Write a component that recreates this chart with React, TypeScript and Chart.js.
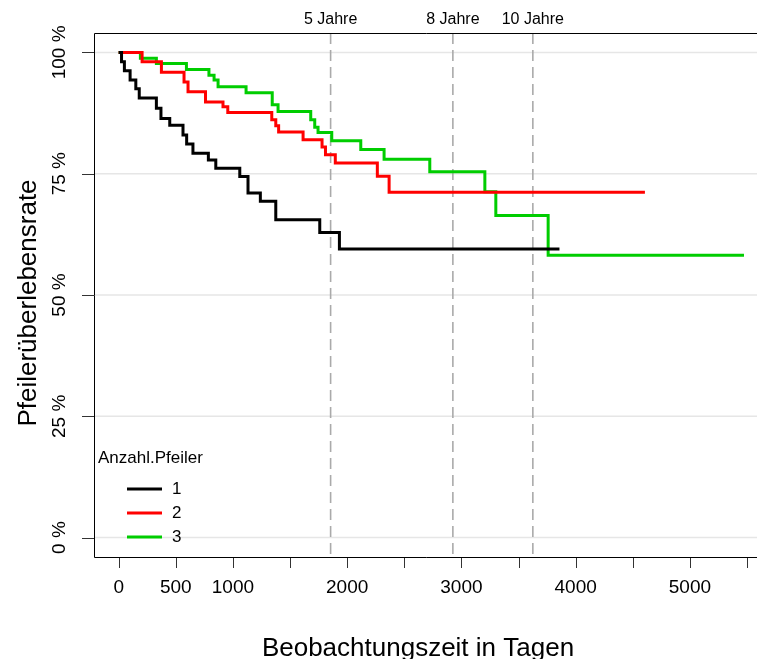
import React, { useEffect, useRef } from 'react';
import { Chart, registerables } from 'chart.js';

Chart.register(...registerables);

// ---- data ----
const groupNames = ['1', '2', '3'];
const groupColors = ['#000000', '#ff0000', '#00cd00'];

const blackDays = [0, 25, 50, 100, 150, 180, 330, 370, 447, 563, 595, 650, 785, 850, 1060, 1132, 1240, 1375, 1760, 1932, 3858];
const blackSurv = [100, 98.1, 96.2, 94.3, 92.5, 90.6, 88.5, 86.4, 85.0, 83.0, 81.1, 79.2, 77.8, 76.1, 74.4, 71.0, 69.3, 65.5, 62.9, 59.5, 59.5];

const redDays = [0, 205, 374, 572, 607, 760, 913, 955, 1340, 1375, 1400, 1614, 1780, 1810, 1896, 2264, 2367, 4606];
const redSurv = [100, 98.1, 95.9, 93.9, 91.9, 89.8, 88.8, 87.6, 86.1, 84.9, 83.6, 82.0, 80.5, 78.9, 77.2, 74.5, 71.2, 71.2];

const greenDays = [0, 190, 330, 593, 790, 835, 870, 1115, 1344, 1395, 1681, 1716, 1745, 1865, 2119, 2323, 2723, 3205, 3301, 3759, 5473];
const greenSurv = [100, 98.8, 97.7, 96.5, 95.3, 94.3, 92.9, 91.7, 89.2, 87.8, 86.1, 84.6, 83.5, 81.8, 80.0, 78.0, 75.4, 71.3, 66.4, 58.2, 58.2];

const xTickValues = [0, 500, 1000, 1500, 2000, 2500, 3000, 3500, 4000, 4500, 5000, 5500];
const xTickLabels = ['0', '500', '1000', '', '2000', '', '3000', '', '4000', '', '5000', ''];
const yTickValues = [0, 25, 50, 75, 100];
const yTickLabels = ['0 %', '25 %', '50 %', '75 %', '100 %'];

const markerDays = [1855, 2925, 3625];
const markerLabels = ['5 Jahre', '8 Jahre', '10 Jahre'];

const legendTitle = 'Anzahl.Pfeiler';
const xTitle = 'Beobachtungszeit in Tagen';
const yTitle = 'Pfeilerüberlebensrate';

const FONT = '"Liberation Sans", Arial, Helvetica, sans-serif';

const decorPlugin = {
  id: 'decor',
  beforeDatasetsDraw(chart: any) {
    const { ctx, chartArea: a, scales } = chart;
    const x = scales.x;
    const y = scales.y;
    ctx.save();
    ctx.strokeStyle = '#e6e6e6';
    ctx.lineWidth = 1.5;
    yTickValues.forEach((v) => {
      const py = y.getPixelForValue(v);
      ctx.beginPath();
      ctx.moveTo(a.left, py);
      ctx.lineTo(a.right, py);
      ctx.stroke();
    });
    ctx.setLineDash([11, 6]);
    ctx.strokeStyle = '#aaaaaa';
    ctx.lineWidth = 1.6;
    markerDays.forEach((d) => {
      const px = x.getPixelForValue(d);
      ctx.beginPath();
      ctx.moveTo(px, a.top);
      ctx.lineTo(px, a.bottom);
      ctx.stroke();
    });
    ctx.restore();
  },
  afterDraw(chart: any) {
    const { ctx, chartArea: a, scales } = chart;
    const x = scales.x;
    const y = scales.y;
    ctx.save();
    // box
    ctx.strokeStyle = '#000';
    ctx.lineWidth = 1;
    ctx.beginPath();
    ctx.moveTo(chart.width + 2, a.top + 0.5);
    ctx.lineTo(a.left + 0.5, a.top + 0.5);
    ctx.lineTo(a.left + 0.5, a.bottom + 0.5);
    ctx.lineTo(chart.width + 2, a.bottom + 0.5);
    ctx.stroke();

    // x ticks
    ctx.strokeStyle = '#333';
    ctx.fillStyle = '#000';
    ctx.font = `19px ${FONT}`;
    ctx.textAlign = 'center';
    ctx.textBaseline = 'middle';
    xTickValues.forEach((v, i) => {
      const px = Math.round(x.getPixelForValue(v)) + 0.5;
      ctx.beginPath();
      ctx.moveTo(px, a.bottom + 1);
      ctx.lineTo(px, a.bottom + 11);
      ctx.stroke();
      if (xTickLabels[i]) ctx.fillText(xTickLabels[i], x.getPixelForValue(v), a.bottom + 31);
    });

    // y ticks
    yTickValues.forEach((v, i) => {
      const py = Math.round(y.getPixelForValue(v)) + 0.5;
      ctx.beginPath();
      ctx.moveTo(a.left - 12, py);
      ctx.lineTo(a.left, py);
      ctx.stroke();
      ctx.save();
      ctx.translate(a.left - 34, y.getPixelForValue(v));
      ctx.rotate(-Math.PI / 2);
      ctx.fillText(yTickLabels[i], 0, 0);
      ctx.restore();
    });

    // marker labels
    ctx.font = `16px ${FONT}`;
    markerDays.forEach((d, i) => {
      ctx.fillText(markerLabels[i], x.getPixelForValue(d), 20);
    });

    // titles
    ctx.font = `26px ${FONT}`;
    ctx.textBaseline = 'alphabetic';
    ctx.fillText(xTitle, 418, 656);
    ctx.save();
    ctx.translate(36, 303);
    ctx.rotate(-Math.PI / 2);
    ctx.fillText(yTitle, 0, 0);
    ctx.restore();

    // legend
    ctx.font = `17px ${FONT}`;
    ctx.textAlign = 'left';
    ctx.textBaseline = 'middle';
    ctx.fillText(legendTitle, 98, 458);
    groupNames.forEach((g, i) => {
      const ly = 489 + i * 24;
      ctx.strokeStyle = groupColors[i];
      ctx.lineWidth = 3;
      ctx.beginPath();
      ctx.moveTo(127, ly);
      ctx.lineTo(162, ly);
      ctx.stroke();
      ctx.fillStyle = '#000';
      ctx.fillText(g, 172, ly);
    });
    ctx.restore();
  },
};

export default function App() {
  const ref = useRef<HTMLCanvasElement | null>(null);
  useEffect(() => {
    if (!ref.current) return;
    const series = [
      [blackDays, blackSurv],
      [redDays, redSurv],
      [greenDays, greenSurv],
    ];
    const chart = new Chart(ref.current, {
      type: 'line',
      data: {
        datasets: series.map(([days, surv], i) => ({
          label: groupNames[i],
          data: days.map((d, j) => ({ x: d, y: surv[j] })),
          borderColor: groupColors[i],
          backgroundColor: groupColors[i],
          borderWidth: 3,
          pointRadius: 0,
          stepped: true,
          fill: false,
          tension: 0,
          borderJoinStyle: 'miter',
          borderCapStyle: 'butt',
        })),
      },
      options: {
        animation: false,
        responsive: false,
        layout: { padding: { left: 94, top: 33, right: 0, bottom: 102 } },
        scales: {
          x: { type: 'linear', min: -216, max: 5587, display: false },
          y: { type: 'linear', min: -4, max: 104, display: false },
        },
        plugins: { legend: { display: false }, tooltip: { enabled: false } },
      },
      plugins: [decorPlugin],
    } as any);
    return () => chart.destroy();
  }, []);
  return (
    <div style={{ position: 'fixed', left: 0, top: 0, width: 757, height: 659, background: '#fff' }}>
      <canvas ref={ref} width={757} height={659} style={{ display: 'block' }} />
    </div>
  );
}
